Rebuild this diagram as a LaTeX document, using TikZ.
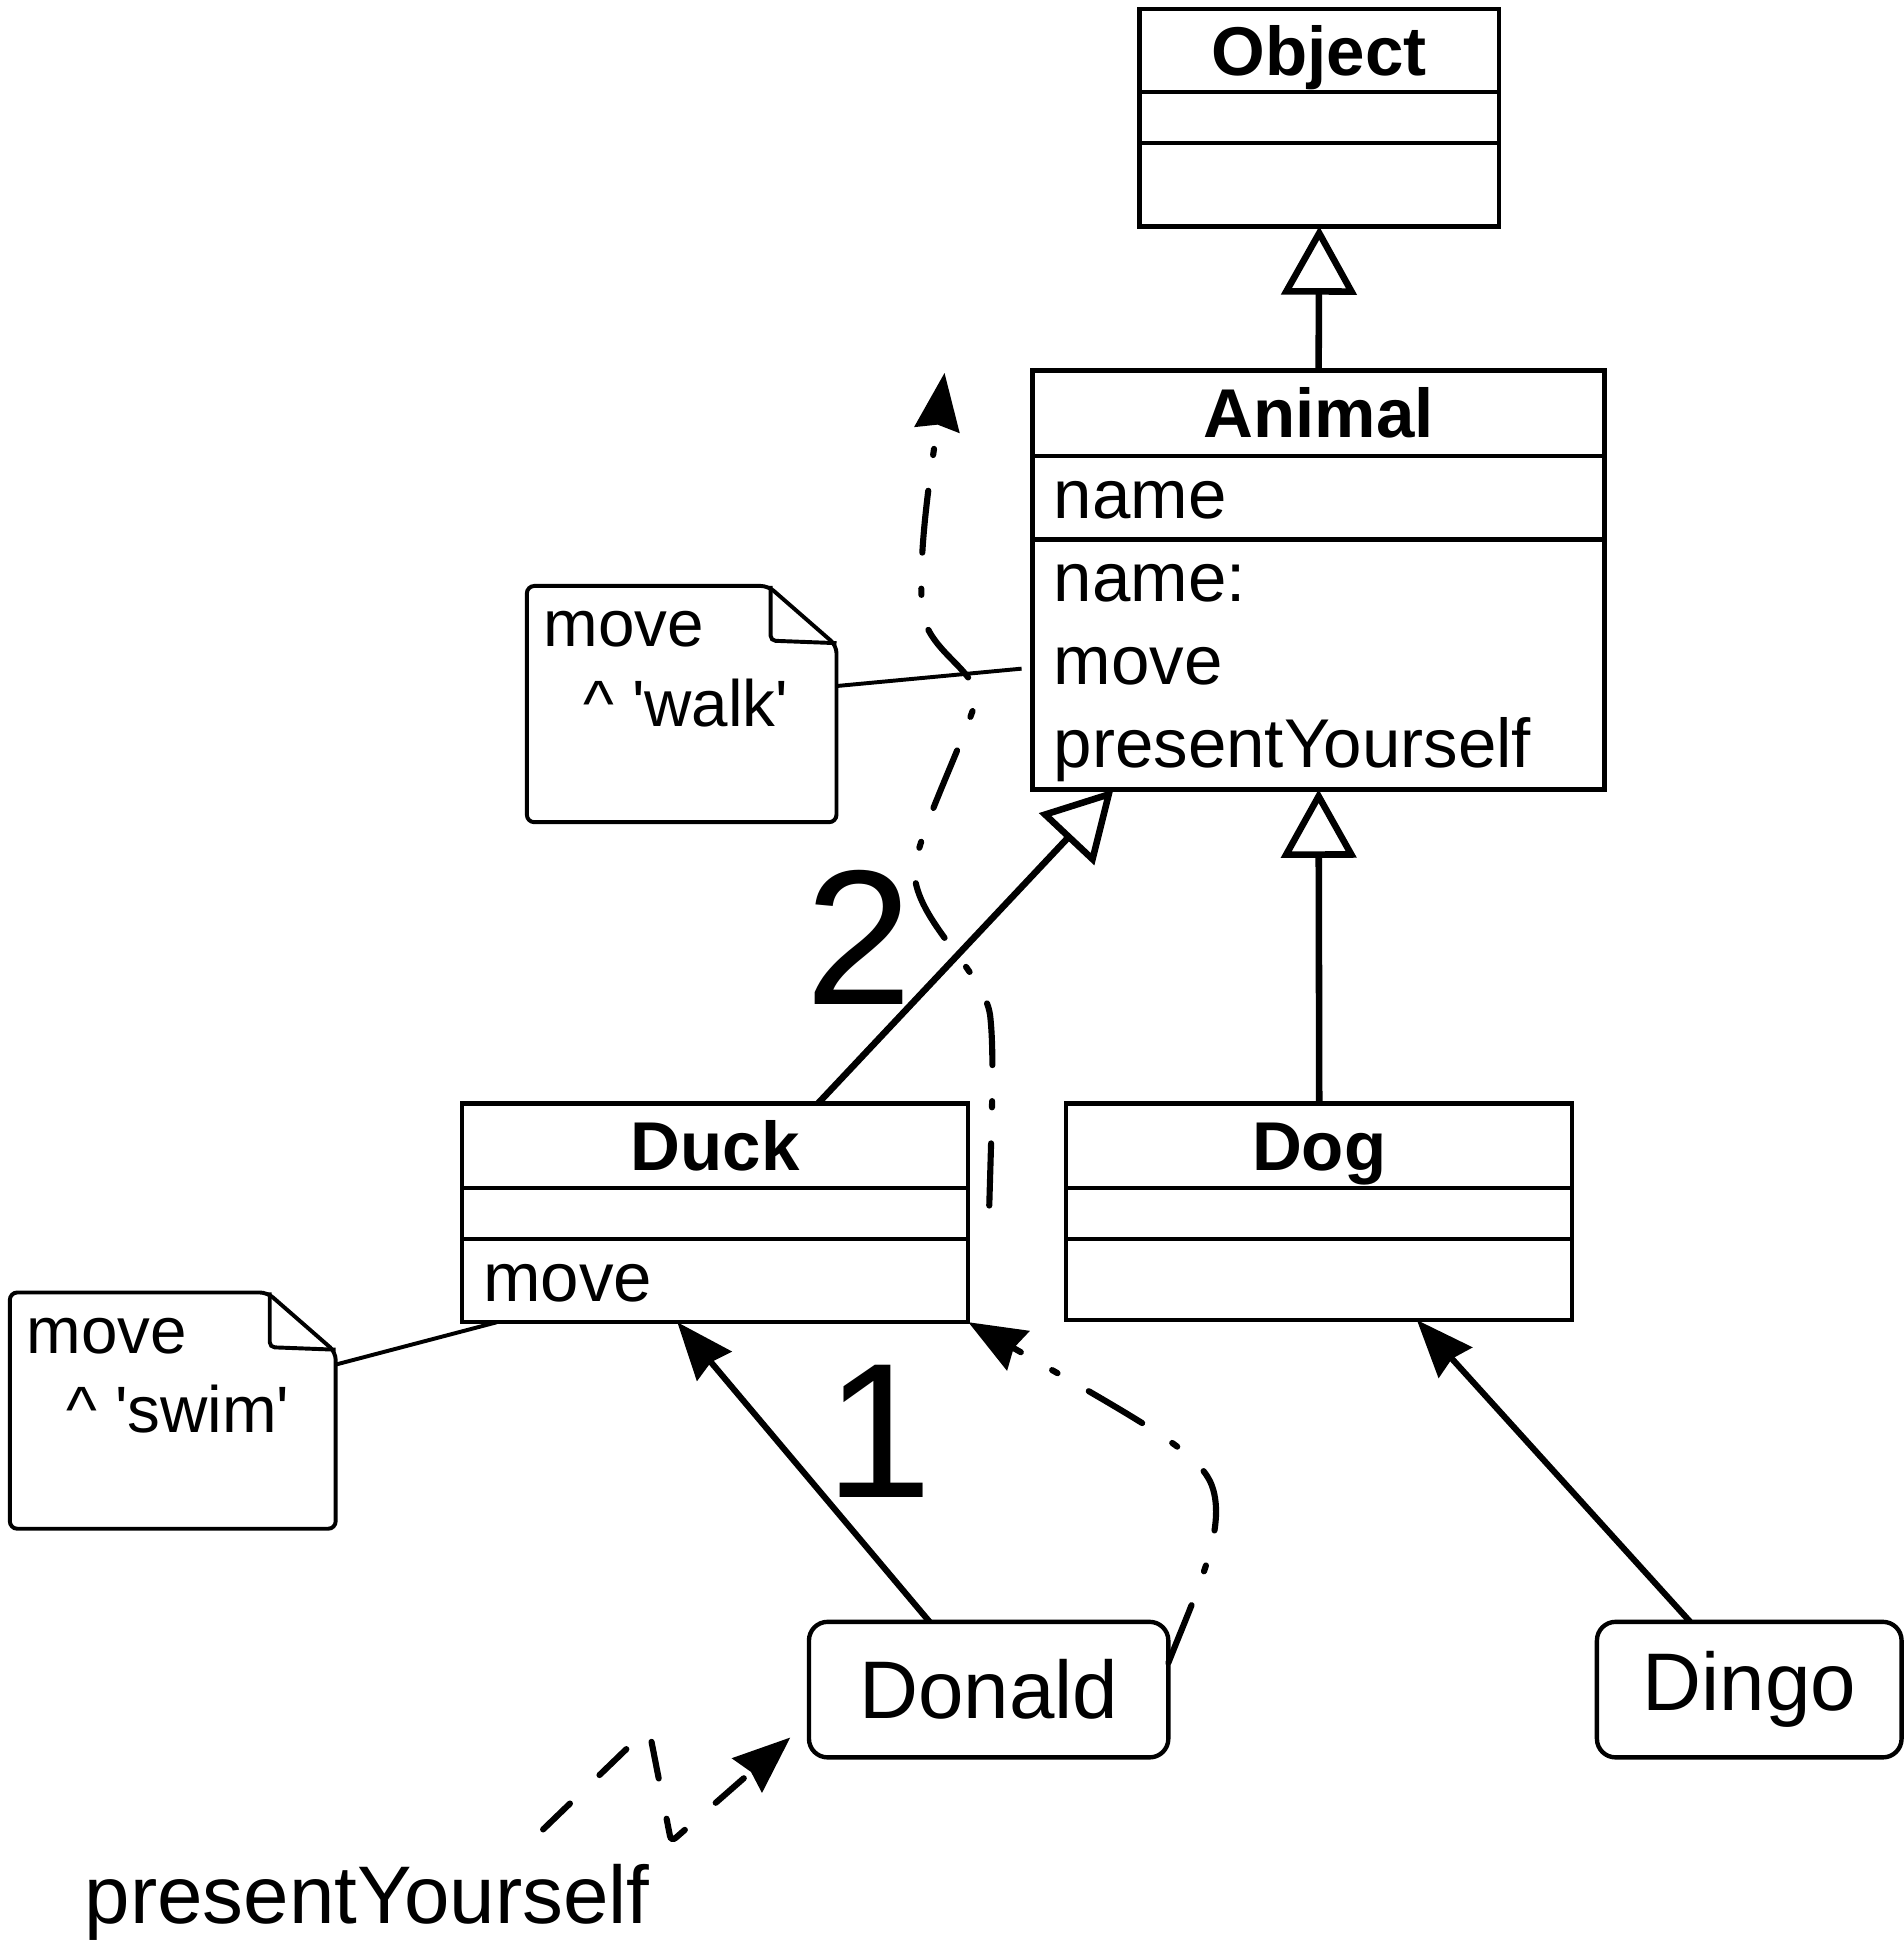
\documentclass[tikz,border=0pt]{standalone}
\usepackage{fontspec}
\setmainfont{Liberation Sans}
\usetikzlibrary{positioning,arrows.meta}
\newcommand\clsfont{\fontsize{15.8}{19}\selectfont}
\newcommand\clsbold{\fontsize{15.8}{19}\selectfont\bfseries}
\newcommand\notefont{\fontsize{15}{18.1}\selectfont}
\newcommand\objfont{\fontsize{18.7}{22}\selectfont}
\newcommand\numfont{\fontsize{44}{50}\selectfont}
\newcommand\rowstrut{\rule[-4.85pt]{0pt}{19pt}}
\begin{document}
\begin{tikzpicture}[x=0.01cm, y=-0.01cm,
    cls/.style={draw, line width=1pt, inner xsep=0.17cm, inner ysep=0pt, outer sep=0pt, text width=#1},
    clsname/.style={cls=#1, align=center, font=\clsbold, text height=11.3pt, text depth=0pt},
    clsgap/.style={cls=#1},
    clsbody/.style={cls=#1, align=left, font=\clsfont, execute at begin node=\rowstrut, execute at end node=\rowstrut},
    instance/.style={draw, line width=1pt, rounded corners=0.15cm, outer sep=0pt, minimum height=1.09cm, font=\objfont},
    memo/.style={minimum width=#1, minimum height=1.9cm, inner sep=0pt, outer sep=0pt},
    notetext/.style={anchor=north west, inner xsep=0.13cm, inner ysep=0.2cm, align=left, font=\notefont},
    noteline/.style={line width=0.9pt},
    inherit/.style={line width=1.5pt, -{Triangle[open, length=0.55cm, width=0.6cm]}},
    assoc/.style={line width=1.4pt, -{Stealth[length=0.46cm, width=0.36cm, inset=0.04cm]}},
    msg/.style={line width=1.4pt, line cap=round, dash pattern=on 0.5cm off 0.29cm on 0.05cm off 0.29cm,
                -{Stealth[length=0.46cm, width=0.36cm, inset=0.04cm]}},
    call/.style={line width=1.4pt, line cap=round, rounded corners=0.05cm, dash pattern=on 0.3cm off 0.33cm,
                 -{Stealth[length=0.46cm, width=0.36cm, inset=0.04cm]}},
    stepnum/.style={inner sep=0pt, font=\numfont}]
  \useasboundingbox (0,0) rectangle (1532,1565);

  % classes
  \node[clsname=2.55cm, minimum height=0.67cm] (objname) at (1061.5,40.5) {Object};
  \node[clsgap=2.55cm, minimum height=0.41cm, below=0pt of objname] (objattr) {};
  \node[clsgap=2.55cm, minimum height=0.67cm, below=0pt of objattr] (objops) {};

  \node[clsname=4.26cm, minimum height=0.69cm] (animalname) at (1061,332.5) {Animal};
  \node[clsbody=4.26cm, minimum height=0.67cm, below=0pt of animalname] (animalattr) {name};
  \node[clsbody=4.26cm, minimum height=2.01cm, below=0pt of animalattr] (animalops) {name:\\move\\presentYourself};

  \node[clsname=3.73cm, minimum height=0.68cm] (duckname) at (575.5,922) {Duck};
  \node[clsgap=3.73cm, minimum height=0.41cm, below=0pt of duckname] (duckattr) {};
  \node[clsbody=3.73cm, minimum height=0.65cm, below=0pt of duckattr] (duckops) {move};

  \node[clsname=3.73cm, minimum height=0.68cm] (dogname) at (1061.5,922) {Dog};
  \node[clsgap=3.73cm, minimum height=0.41cm, below=0pt of dogname] (dogattr) {};
  \node[clsgap=3.73cm, minimum height=0.65cm, below=0pt of dogattr] (dogops) {};

  % instances
  \node[instance, minimum width=2.89cm] (donald) at (795.5,1359.5) {Donald};
  \node[instance, minimum width=2.45cm] (dingo) at (1407.5,1359.5) {Dingo};
  \node[font=\objfont, anchor=base] (callmsg) at (295.5,1548) {presentYourself};

  % notes
  \node[memo=2.49cm] (walknote) at (548.5,566.5) {};
  \node[memo=2.62cm] (swimnote) at (139,1135) {};
  \foreach \m in {walknote,swimnote} {
    \draw[noteline, rounded corners=0.06cm] (\m.north west) -- ([xshift=-0.55cm]\m.north east)
      -- ([yshift=-0.48cm]\m.north east) -- (\m.south east) -- (\m.south west) -- cycle;
    \draw[noteline, rounded corners=0.04cm] ([xshift=-0.53cm]\m.north east)
      -- ([xshift=-0.53cm, yshift=-0.44cm]\m.north east) -- ([yshift=-0.46cm]\m.north east);
  }
  \node[notetext] (walktext) at (walknote.north west) {move\\\hspace*{0.6em}\textasciicircum{} \textquotesingle walk\textquotesingle};
  \node[notetext] (swimtext) at (swimnote.north west) {move\\\hspace*{0.6em}\textasciicircum{} \textquotesingle swim\textquotesingle};

  \coordinate (walkpin) at (822,538);
  \draw[noteline] ([yshift=0.145cm]walknote.east) -- (walkpin);
  \draw[noteline] ([yshift=0.37cm]swimnote.east) -- ([xshift=0.28cm]duckops.south west);

  % generalisation
  \draw[inherit] (animalname.north) -- (objops.south);
  \draw[inherit] (dogname.north) -- (animalops.south);
  \draw[inherit] ([xshift=0.825cm]duckname.north) -- ([xshift=-1.65cm]animalops.south);

  % instance of
  \draw[assoc] ([xshift=-0.475cm]donald.north) -- ([xshift=-0.305cm]duckops.south);
  \draw[assoc] ([xshift=-0.475cm]dingo.north) -- ([xshift=0.785cm]dogops.south);

  % method lookup
  \node[stepnum] (num1) at (707,1152) {1};
  \node[stepnum] (num2) at (691,754) {2};
  \draw[msg] ([yshift=0.215cm]donald.east) .. controls (962,1282) and (988,1230) .. (975,1195)
    .. controls (965,1170) and (930,1150) .. (duckops.south east);
  \coordinate (selfstart) at (796,970);
  \coordinate (selftip) at (760,300);
  \draw[msg] (selfstart) .. controls (798,900) and (800,850) .. (797,820)
    .. controls (795,785) and (740,745) .. (736,705)
    .. controls (734,680) and (770,610) .. (785,565)
    .. controls (790,540) and (745,525) .. (742,490)
    .. controls (738,440) and (752,360) .. (selftip);
  \coordinate (callstart) at (437,1472);
  \draw[call] (callstart) -- (522,1390) -- (540,1482) -- ([xshift=-0.15cm, yshift=0.16cm]donald.south west);
\end{tikzpicture}
\end{document}
